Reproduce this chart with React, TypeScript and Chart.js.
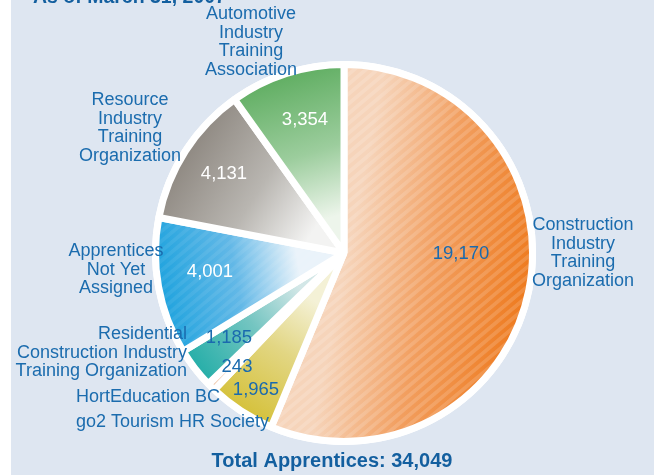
import React, { useEffect, useRef } from "react";
import { Chart, registerables } from "chart.js";

Chart.register(...registerables);

// ---------- data ----------
const categories = [
  "Construction Industry Training Organization",
  "go2 Tourism HR Society",
  "HortEducation BC",
  "Residential Construction Industry Training Organization",
  "Apprentices Not Yet Assigned",
  "Resource Industry Training Organization",
  "Automotive Industry Training Association",
];
const apprentices = [19170, 1965, 243, 1185, 4001, 4131, 3354];
const categoryLines = [
  ["Construction", "Industry", "Training", "Organization"],
  ["go2 Tourism HR Society"],
  ["HortEducation BC"],
  ["Residential", "Construction Industry", "Training Organization"],
  ["Apprentices", "Not Yet", "Assigned"],
  ["Resource", "Industry", "Training", "Organization"],
  ["Automotive", "Industry", "Training", "Association"],
];
const dateText = "As of March 31, 2007";
const totalPrefix = "Total Apprentices: ";

// ---------- styles / layout ----------
const outerColors = ["#ee7a1e", "#d5c13a", "#f2cdb3", "#25aea8", "#1fa3de", "#8f8982", "#60ae62"];
const midColors = ["#f29f60", "#e2d683", "#f5d8c4", "#74c5c1", "#62b8e7", "#b9b6b1", "#9ccd9d"];
const innerColors = ["#f6d4ba", "#f4f1d6", "#f7e2d4", "#d3e7e7", "#eaf3fa", "#f3f3f2", "#edf5eb"];
const gradStart = [0.02, 0.3, 0.3, 0.3, 0.25, 0.2, 0.2];
const stripeAlpha = [0.15, 0, 0, 0, 0.07, 0, 0];
const valueColors = ["#1a6aae", "#1a6aae", "#1a6aae", "#1a6aae", "#ffffff", "#ffffff", "#ffffff"];
const valuePos = [
  [461, 259],
  [256, 395],
  [237, 372],
  [229, 343],
  [210, 277],
  [224, 179],
  [305, 125],
];
const labelPos: [number, number, CanvasTextAlign][] = [
  [583, 230, "center"],
  [76, 426.5, "left"],
  [76, 401.5, "left"],
  [187, 339, "right"],
  [116, 256, "center"],
  [130, 105, "center"],
  [251, 19, "center"],
];
const LINE_H = 18.5;
const FONT = '"Liberation Sans", Arial, sans-serif';
const TEXT_BLUE = "#1b6cae";
const TITLE_BLUE = "#135f9f";
const BG = "#dee6f1";
const RADIUS = 188.5;
const BORDER = 7;
const STRIPE_ANGLE = (40 * Math.PI) / 180;
const STRIPE_GAP = 7.5;

const total = apprentices.reduce((a, b) => a + b, 0);
function midAngle(i: number) {
  let acc = 0;
  for (let j = 0; j < i; j++) acc += apprentices[j];
  return -Math.PI / 2 + ((acc + apprentices[i] / 2) / total) * Math.PI * 2;
}

const decorPlugin = {
  id: "decor",
  beforeDraw(chart: any) {
    const ctx = chart.ctx;
    ctx.save();
    ctx.fillStyle = "#ffffff";
    ctx.fillRect(0, 0, chart.width, chart.height);
    ctx.fillStyle = BG;
    ctx.fillRect(11, 0, chart.width - 11, chart.height);
    ctx.restore();
  },
  beforeDatasetsDraw(chart: any) {
    const a = chart.chartArea;
    const ctx = chart.ctx;
    const cx = (a.left + a.right) / 2;
    const cy = (a.top + a.bottom) / 2;
    ctx.save();
    ctx.fillStyle = "#ffffff";
    ctx.beginPath();
    ctx.arc(cx, cy, RADIUS + BORDER / 2, 0, Math.PI * 2);
    ctx.fill();
    ctx.restore();
  },
  afterDatasetsDraw(chart: any) {
    const ctx = chart.ctx;
    const meta = chart.getDatasetMeta(0);
    const dx = Math.cos(STRIPE_ANGLE), dy = -Math.sin(STRIPE_ANGLE);
    const nx = -dy, ny = dx;
    const L = chart.width + chart.height;
    meta.data.forEach((arc: any, i: number) => {
      const alpha = stripeAlpha[i];
      if (!alpha) return;
      const p = arc.getProps(["x", "y", "startAngle", "endAngle", "outerRadius"], true);
      ctx.save();
      ctx.beginPath();
      ctx.moveTo(p.x, p.y);
      ctx.arc(p.x, p.y, p.outerRadius - BORDER / 2, p.startAngle, p.endAngle);
      ctx.closePath();
      ctx.clip();
      ctx.strokeStyle = `rgba(255,255,255,${alpha})`;
      ctx.lineWidth = STRIPE_GAP / 2;
      for (let c = -L; c < L; c += STRIPE_GAP) {
        const px = c * nx, py = c * ny;
        ctx.beginPath();
        ctx.moveTo(px - L * dx, py - L * dy);
        ctx.lineTo(px + L * dx, py + L * dy);
        ctx.stroke();
      }
      ctx.restore();
    });
  },
  afterDraw(chart: any) {
    const ctx = chart.ctx;
    ctx.save();
    ctx.textBaseline = "alphabetic";
    ctx.font = `18px ${FONT}`;
    ctx.fillStyle = TEXT_BLUE;
    categoryLines.forEach((lines, i) => {
      const [x, y, align] = labelPos[i];
      ctx.textAlign = align;
      lines.forEach((ln, k) => ctx.fillText(ln, x, y + k * LINE_H));
    });
    ctx.textAlign = "center";
    ctx.font = `18.5px ${FONT}`;
    apprentices.forEach((v, i) => {
      ctx.fillStyle = valueColors[i];
      ctx.fillText(v.toLocaleString("en-US"), valuePos[i][0], valuePos[i][1]);
    });
    ctx.fillStyle = TITLE_BLUE;
    ctx.font = `bold 19.5px ${FONT}`;
    ctx.textAlign = "left";
    ctx.fillText(dateText, 33, 2.5);
    ctx.textAlign = "center";
    ctx.font = `bold 20px ${FONT}`;
    ctx.fillText(totalPrefix + total.toLocaleString("en-US"), 332, 467);
    ctx.restore();
  },
};

export default function App() {
  const ref = useRef<HTMLCanvasElement | null>(null);
  useEffect(() => {
    if (!ref.current) return;
    const chart = new Chart(ref.current, {
      type: "pie",
      data: {
        labels: categories,
        datasets: [
          {
            data: apprentices,
            radius: RADIUS,
            borderColor: "#ffffff",
            borderWidth: BORDER,
            backgroundColor: (c: any) => {
              const i = c.dataIndex;
              const chartArea = c.chart.chartArea;
              if (i === undefined || !chartArea) return outerColors[i ?? 0];
              const cx = (chartArea.left + chartArea.right) / 2;
              const cy = (chartArea.top + chartArea.bottom) / 2;
              const ang = midAngle(i);
              const r0 = RADIUS * gradStart[i];
              const g = c.chart.ctx.createLinearGradient(
                cx + Math.cos(ang) * r0,
                cy + Math.sin(ang) * r0,
                cx + Math.cos(ang) * RADIUS,
                cy + Math.sin(ang) * RADIUS
              );
              g.addColorStop(0, innerColors[i]);
              g.addColorStop(0.45, midColors[i]);
              g.addColorStop(1, outerColors[i]);
              return g;
            },
          } as any,
        ],
      },
      options: {
        responsive: false,
        animation: false,
        layout: { padding: { left: 150, right: 116, top: 60, bottom: 29 } },
        plugins: {
          legend: { display: false },
          tooltip: { enabled: false },
          title: { display: false },
        },
      },
      plugins: [decorPlugin],
    });
    return () => chart.destroy();
  }, []);
  return (
    <div style={{ position: "fixed", left: 0, top: 0, width: 654, height: 475 }}>
      <canvas ref={ref} width={654} height={475} style={{ display: "block" }} />
    </div>
  );
}
